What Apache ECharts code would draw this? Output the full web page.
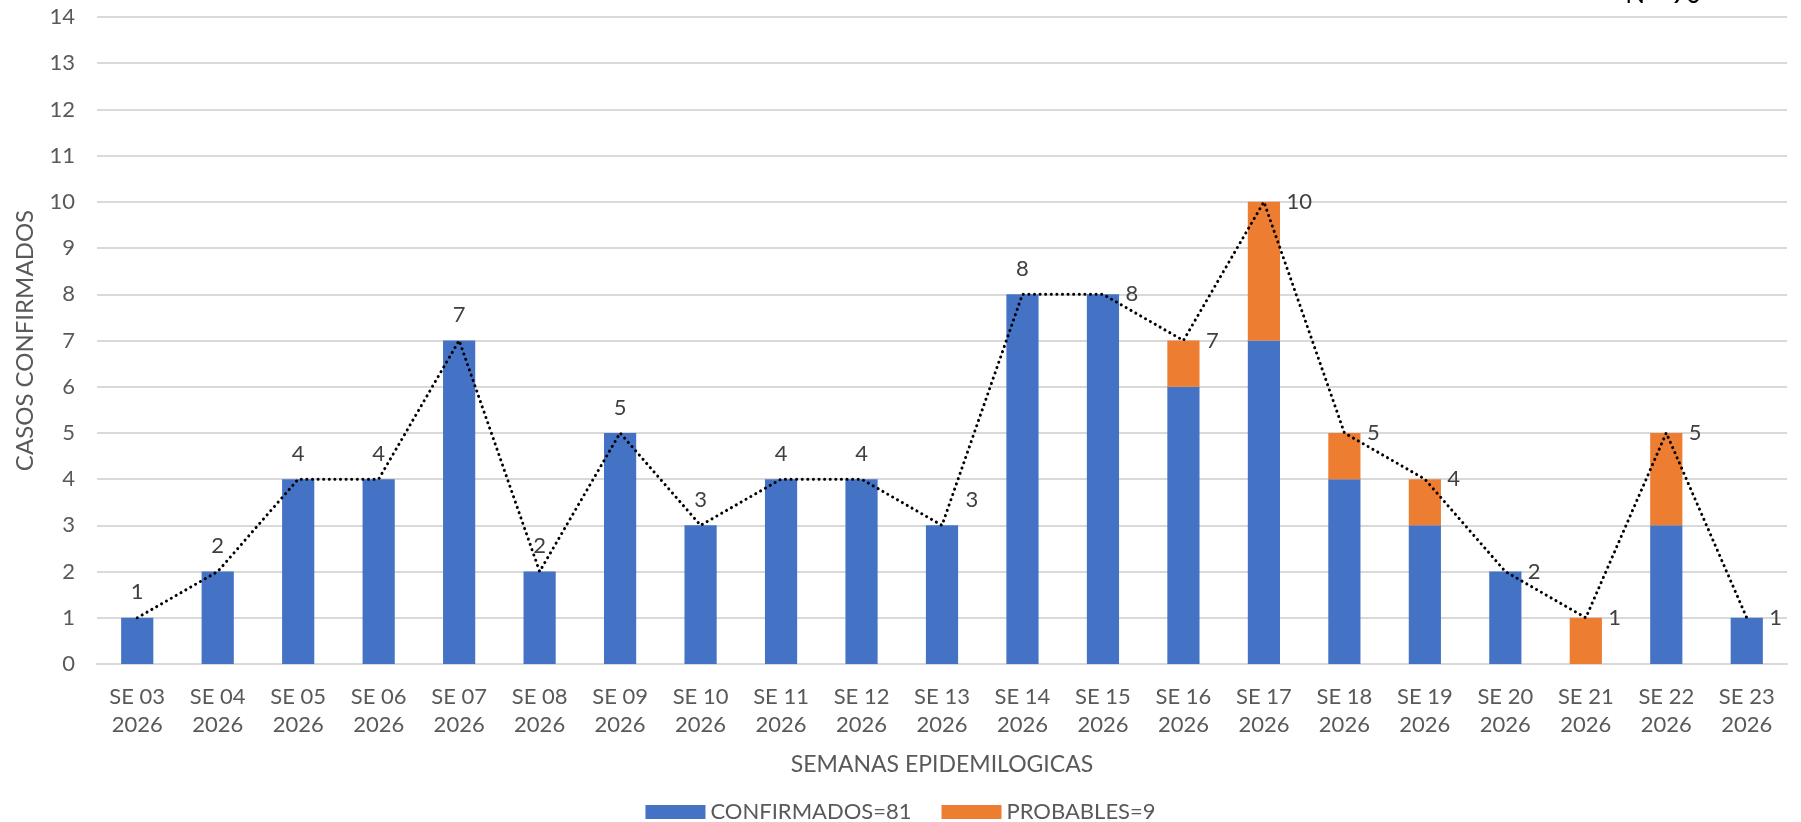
<!DOCTYPE html>
<html>
<head>
<meta charset="utf-8">
<script src="https://cdn.jsdelivr.net/npm/echarts@6/dist/echarts.min.js"></script>
<style>
html,body{margin:0;padding:0;background:#fff;}
#main{width:1801px;height:822px;}
</style>
</head>
<body>
<div id="main"></div>
<script>
const categories = ['SE 03\n2026','SE 04\n2026','SE 05\n2026','SE 06\n2026','SE 07\n2026','SE 08\n2026','SE 09\n2026','SE 10\n2026','SE 11\n2026','SE 12\n2026','SE 13\n2026','SE 14\n2026','SE 15\n2026','SE 16\n2026','SE 17\n2026','SE 18\n2026','SE 19\n2026','SE 20\n2026','SE 21\n2026','SE 22\n2026','SE 23\n2026'];
const confirmados = [1,2,4,4,7,2,5,3,4,4,3,8,8,6,7,4,3,2,0,3,1];
const probables   = [0,0,0,0,0,0,0,0,0,0,0,0,0,1,3,1,1,0,1,2,0];
const totals      = [1,2,4,4,7,2,5,3,4,4,3,8,8,7,10,5,4,2,1,5,1];
const yTicks = [0,1,2,3,4,5,6,7,8,9,10,11,12,13,14];
const seriesNames = ['CONFIRMADOS=81','PROBABLES=9'];
const noteText = 'N°=90';

// label placement (style config)
const labelPlace = ['top','top','top','top','top','top','top','top','top','top','upright','top','right','right','right','right','right','right','right','right','right'];

const FONT = 'Lato';
const TXT = '#595959';
const FS = 22;

const lineData = totals.map((v,i)=>{
  const p = labelPlace[i];
  let label;
  if (p === 'top') label = {position:'top', distance:14};
  else if (p === 'right') label = {position:'right', distance:22};
  else label = {position:'top', distance:14, offset:[30,0]};
  return {value:v, label};
});

const chart = echarts.init(document.getElementById('main'));
chart.setOption({
  backgroundColor:'#fff',
  animation:false,
  textStyle:{fontFamily:FONT},
  grid:{left:97,right:14,top:17,bottom:158,containLabel:false},
  legend:{
    top:796,left:'center',
    itemWidth:60,itemHeight:14,itemGap:30,
    icon:'rect',
    data:seriesNames,
    textStyle:{fontSize:FS,color:TXT,fontFamily:FONT}
  },
  xAxis:{
    type:'category',
    data:categories,
    name:'SEMANAS EPIDEMILOGICAS',
    nameLocation:'middle',
    nameGap:89,
    nameTextStyle:{fontSize:23,color:TXT,fontFamily:FONT},
    axisTick:{show:false},
    axisLine:{lineStyle:{color:'#d9d9d9',width:2}},
    axisLabel:{fontSize:FS,color:TXT,lineHeight:28,margin:19,interval:0,fontFamily:FONT}
  },
  yAxis:{
    type:'value',
    min:yTicks[0],max:yTicks[yTicks.length-1],interval:1,
    name:'CASOS CONFIRMADOS',
    nameLocation:'middle',
    nameGap:60,
    nameTextStyle:{fontSize:24,color:TXT,fontFamily:FONT},
    axisLine:{show:false},
    axisTick:{show:false},
    axisLabel:{fontSize:FS,color:TXT,margin:22,fontFamily:FONT},
    splitLine:{lineStyle:{color:'#d9d9d9',width:2}}
  },
  graphic:[{
    type:'text',right:100,top:-18,
    style:{text:noteText,font:'26px '+FONT,fill:'#000'}
  }],
  series:[
    {name:seriesNames[0],type:'bar',stack:'t',data:confirmados,barWidth:'40%',
      itemStyle:{color:'#4472C4'}},
    {name:seriesNames[1],type:'bar',stack:'t',data:probables,barWidth:'40%',
      itemStyle:{color:'#ED7D31'}},
    {name:'TOTAL',type:'line',data:lineData,symbol:'circle',symbolSize:1,showSymbol:true,z:5,
      itemStyle:{color:'rgba(0,0,0,0)'},
      lineStyle:{color:'#000',width:3,type:[0.1,5.5],cap:'round'},
      label:{show:true,fontSize:FS,color:'#404040',fontFamily:FONT},
      emphasis:{disabled:true}
    }
  ]
});
</script>
</body>
</html>
